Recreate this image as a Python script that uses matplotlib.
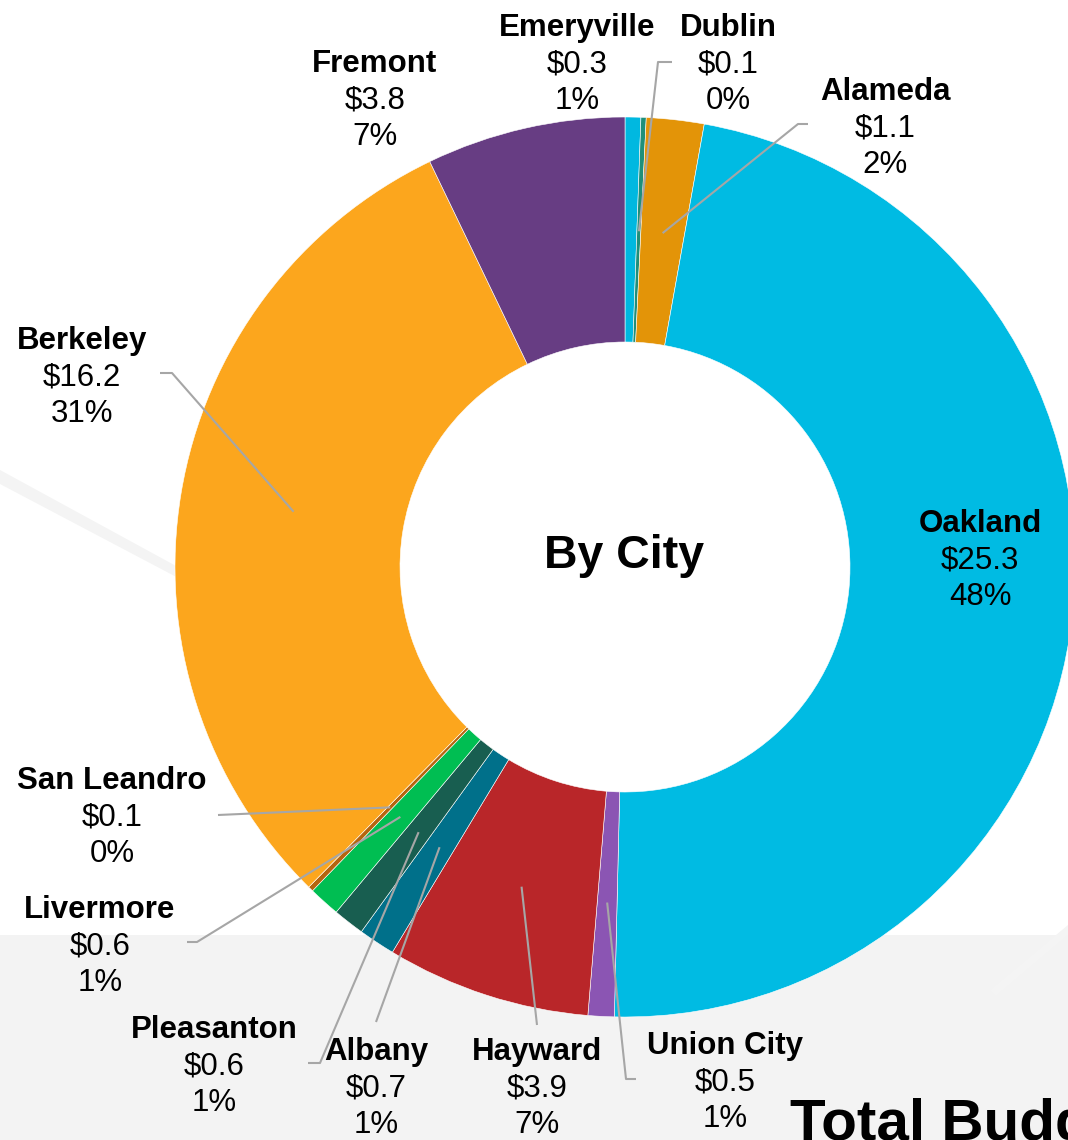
import numpy as np
import matplotlib
matplotlib.use("Agg")
import matplotlib.pyplot as plt
from matplotlib.patches import Rectangle, Polygon

plt.rcParams['font.family'] = ['Liberation Sans', 'DejaVu Sans']

# budget by city ($M), clockwise from 12 o'clock
cities = ['Emeryville', 'Dublin', 'Alameda', 'Oakland', 'Union City', 'Hayward',
          'Albany', 'Pleasanton', 'Livermore', 'San Leandro', 'Berkeley', 'Fremont']
budget = [0.3, 0.1, 1.1, 25.3, 0.5, 3.9, 0.7, 0.6, 0.6, 0.1, 16.2, 3.8]
pct_labels = ['1%', '0%', '2%', '48%', '1%', '7%', '1%', '1%', '1%', '0%', '31%', '7%']
colors = ['#00b8e0', '#1f8f7a', '#e39408', '#00bbe3', '#8b55b3', '#b92629',
          '#00708a', '#185e50', '#00be52', '#b5650f', '#fca61d', '#673d83']

# label placement in pixels: (x centre, baseline of city name)
label_pos = {
    'Emeryville': (577, 36), 'Dublin': (728, 36), 'Alameda': (885, 100),
    'Oakland': (980, 532), 'Union City': (725, 1054), 'Hayward': (537, 1060),
    'Albany': (376, 1060), 'Pleasanton': (214, 1038), 'Livermore': (100, 918),
    'San Leandro': (112, 789), 'Berkeley': (82, 349), 'Fremont': (375, 72),
}
# leader line start points (label side) in pixels
leaders = {
    'Dublin': [(672, 62), (658, 62)],
    'Alameda': [(808, 124), (798, 124)],
    'Berkeley': [(160, 373), (172, 373)],
    'San Leandro': [(218, 815)],
    'Livermore': [(187, 942), (197, 942)],
    'Pleasanton': [(308, 1063), (320, 1063)],
    'Albany': [(376, 1022)],
    'Hayward': [(537, 1025)],
    'Union City': [(636, 1079), (626, 1079)],
}

W, H = 1068, 1140
def Y(py):
    return H - py

fig = plt.figure(figsize=(10.68, 11.40), dpi=100)
ax = fig.add_axes([0, 0, 1, 1])

# faint background (ground band + turbine blades)
ax.add_patch(Rectangle((0, 0), W, Y(935), color='#f3f3f3', zorder=0, lw=0))
for pts in [[(0, 470), (0, 484), (220, 600), (220, 590)],
            [(760, 760), (768, 768), (930, 660), (925, 652)],
            [(990, 990), (996, 996), (1068, 935), (1068, 925)]]:
    ax.add_patch(Polygon([(x, Y(y)) for x, y in pts], closed=True,
                         color='#f4f4f4', lw=0, zorder=0))

cx, cy, R = 625, Y(567), 450
wedges, _ = ax.pie(budget, colors=colors, startangle=90, counterclock=False,
                   radius=R, center=(cx, cy),
                   wedgeprops=dict(width=R / 2, edgecolor='white', linewidth=0.4))
for w in wedges:
    w.set_zorder(2)

ax.text(624.5, Y(568), 'By City', ha='center', va='baseline', fontsize=33.5,
        fontweight='bold', zorder=4)

for w, name, val, pct in zip(wedges, cities, budget, pct_labels):
    mid = np.deg2rad((w.theta1 + w.theta2) / 2)
    ax_, ay_ = cx + 336 * np.cos(mid), cy + 336 * np.sin(mid)
    if name in leaders:
        pts = leaders[name]
        xs = [p[0] for p in pts] + [ax_]
        ys = [Y(p[1]) for p in pts] + [ay_]
        ax.plot(xs, ys, color='#a6a6a6', lw=1.5, zorder=3, solid_capstyle='butt')
    x, y = label_pos[name]
    ax.text(x, Y(y), name, ha='center', va='baseline', fontsize=22.5,
            fontweight='bold', zorder=4)
    ax.text(x, Y(y + 36.5), f'${val}', ha='center', va='baseline', fontsize=22.5, zorder=4)
    ax.text(x, Y(y + 73), pct, ha='center', va='baseline', fontsize=22.5, zorder=4)

ax.text(790, Y(1140), 'Total Budget', ha='left', va='baseline', fontsize=42,
        fontweight='bold', zorder=4)

ax.set_xlim(0, W)
ax.set_ylim(0, H)
ax.set_aspect('auto')
ax.axis('off')
fig.savefig('out.png', dpi=100)
